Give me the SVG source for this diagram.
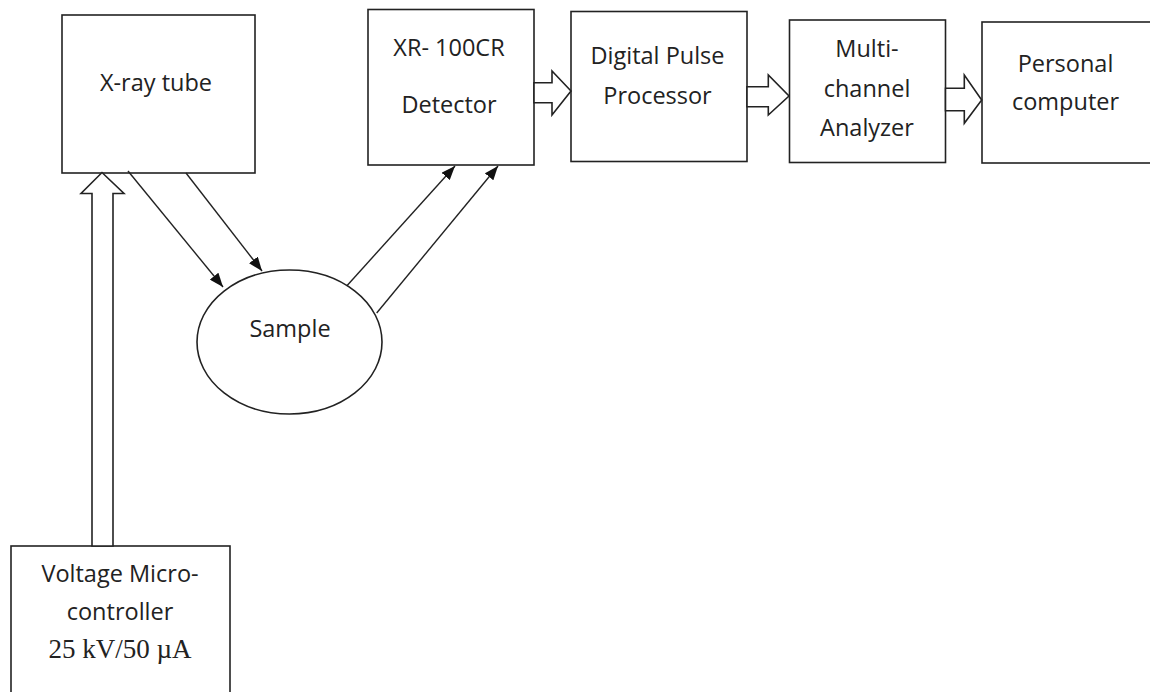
<svg xmlns="http://www.w3.org/2000/svg" width="1150" height="692" viewBox="0 0 1150 692">
<defs>
<style>
.box{fill:#fff;stroke:#222;stroke-width:1.6}
.lbl{font-family:"Open Sans","Liberation Sans",sans-serif;font-size:23.5px;fill:#222;text-anchor:middle}
.ser{font-family:"Liberation Serif","DejaVu Serif",serif;font-size:27px;fill:#222;text-anchor:middle}
.ln{stroke:#222;stroke-width:1.4;fill:none}
.hol{fill:#fff;stroke:#222;stroke-width:1.6;stroke-linejoin:miter}
</style>
<marker id="ah" viewBox="0 0 14 11" refX="14" refY="5.5" markerWidth="14" markerHeight="11" markerUnits="userSpaceOnUse" orient="auto">
<path d="M0,0 L14,5.5 L0,11 Z" fill="#111"/>
</marker>
</defs>
<rect width="1150" height="692" fill="#fff"/>
<g id="xray-tube">
<rect class="box" x="62" y="15" width="193" height="158"/>
<text class="lbl" x="156" y="90.5">X-ray tube</text>
</g>
<g id="voltage-controller">
<rect class="box" x="11" y="546" width="219" height="160"/>
<text class="lbl" x="120" y="581.7">Voltage Micro-</text>
<text class="lbl" x="120" y="620">controller</text>
<text class="ser" x="120" y="658">25 kV/50 µA</text>
</g>
<g id="sample">
<ellipse class="box" cx="289.5" cy="342" rx="92.5" ry="72"/>
<text class="lbl" x="290" y="336.7">Sample</text>
</g>
<g id="detector">
<rect class="box" x="368" y="9.5" width="166" height="155.5"/>
<text class="lbl" x="449" y="56">XR- 100CR</text>
<text class="lbl" x="449" y="113">Detector</text>
</g>
<g id="dpp">
<rect class="box" x="571" y="11.5" width="176" height="150"/>
<text class="lbl" x="657.5" y="64">Digital Pulse</text>
<text class="lbl" x="657.5" y="104">Processor</text>
</g>
<g id="mca">
<rect class="box" x="789.5" y="20" width="156" height="142.5"/>
<text class="lbl" x="867" y="57.3">Multi-</text>
<text class="lbl" x="867" y="96.7">channel</text>
<text class="lbl" x="867" y="136">Analyzer</text>
</g>
<g id="pc">
<rect class="box" x="982" y="22" width="180" height="141"/>
<text class="lbl" x="1065.5" y="71.7">Personal</text>
<text class="lbl" x="1065.5" y="110">computer</text>
</g>
<g id="connectors">
<path class="hol" d="M92,546 L92,193.5 L81,193.5 L102,172.5 L124,193.5 L113,193.5 L113,546 Z"/>
<line class="ln" x1="128" y1="171" x2="223" y2="287" marker-end="url(#ah)"/>
<line class="ln" x1="186" y1="173" x2="262" y2="271" marker-end="url(#ah)"/>
<line class="ln" x1="346.7" y1="286" x2="455" y2="166" marker-end="url(#ah)"/>
<line class="ln" x1="376.7" y1="313" x2="498" y2="166" marker-end="url(#ah)"/>
<path class="hol" d="M534,82.7 L552,82.7 L552,71 L571,91 L552,115 L552,102.7 L534,102.7 Z"/>
<path class="hol" d="M747,86.7 L768.3,86.7 L768.3,75 L789,96 L768.3,115 L768.3,106.7 L747,106.7 Z"/>
<path class="hol" d="M945.5,88.3 L964.3,88.3 L964.3,75 L981.7,100 L964.3,123.3 L964.3,110.7 L945.5,110.7 Z"/>
</g>
</svg>
